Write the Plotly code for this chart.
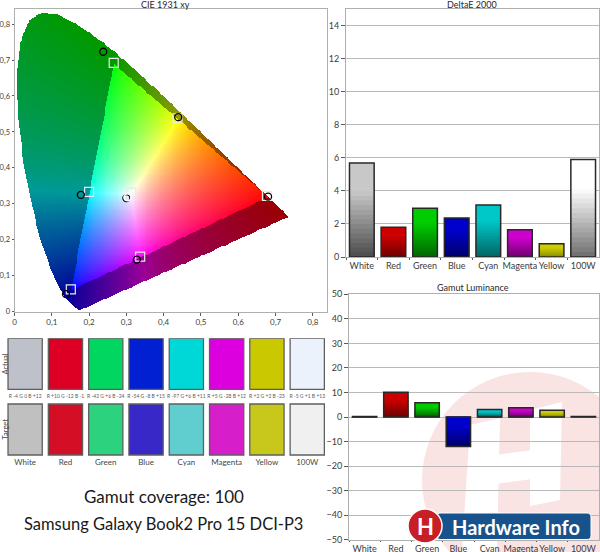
import numpy as np
import plotly.graph_objects as go

# ---------------- data ----------------
categories = ["White", "Red", "Green", "Blue", "Cyan", "Magenta", "Yellow", "100W"]
delta_e = [5.69, 1.80, 2.95, 2.36, 3.15, 1.65, 0.80, 5.91]
luminance = [0.2, 10.1, 5.8, -12.0, 3.1, 3.8, 2.7, 0.2]

target_x = [0.313, 0.677, 0.266, 0.151, 0.200, 0.337, 0.437, 0.313]
target_y = [0.331, 0.322, 0.692, 0.062, 0.333, 0.153, 0.538, 0.331]
actual_x = [0.300, 0.680, 0.238, 0.138, 0.178, 0.328, 0.439, 0.303]
actual_y = [0.316, 0.320, 0.723, 0.049, 0.325, 0.145, 0.541, 0.318]

gamut_x = [0.680, 0.265, 0.150]
gamut_y = [0.320, 0.690, 0.060]
white_x, white_y = 0.3127, 0.3290

# CIE 1931 2-degree spectral locus (380..700 nm)
locus_x = [0.1741, 0.1740, 0.1738, 0.1736, 0.1733, 0.1730, 0.1726, 0.1721, 0.1714, 0.1703,
           0.1689, 0.1669, 0.1644, 0.1611, 0.1566, 0.1510, 0.1440, 0.1355, 0.1241, 0.1096,
           0.0913, 0.0687, 0.0454, 0.0235, 0.0082, 0.0039, 0.0139, 0.0389, 0.0743, 0.1142,
           0.1547, 0.1929, 0.2296, 0.2658, 0.3016, 0.3373, 0.3731, 0.4087, 0.4441, 0.4788,
           0.5125, 0.5448, 0.5752, 0.6029, 0.6270, 0.6482, 0.6658, 0.6801, 0.6915, 0.7006,
           0.7079, 0.7140, 0.7190, 0.7230, 0.7260, 0.7283, 0.7300, 0.7311, 0.7320, 0.7334, 0.7347]
locus_y = [0.0050, 0.0050, 0.0049, 0.0049, 0.0048, 0.0048, 0.0048, 0.0048, 0.0051, 0.0058,
           0.0069, 0.0086, 0.0109, 0.0138, 0.0177, 0.0227, 0.0297, 0.0399, 0.0578, 0.0868,
           0.1327, 0.2007, 0.2950, 0.4127, 0.5384, 0.6548, 0.7502, 0.8120, 0.8338, 0.8262,
           0.8059, 0.7816, 0.7543, 0.7243, 0.6923, 0.6589, 0.6245, 0.5896, 0.5547, 0.5202,
           0.4866, 0.4544, 0.4242, 0.3965, 0.3725, 0.3514, 0.3340, 0.3197, 0.3083, 0.2993,
           0.2920, 0.2859, 0.2809, 0.2770, 0.2740, 0.2717, 0.2700, 0.2689, 0.2680, 0.2666, 0.2653]

swatch_actual = ["rgb(190,192,202)", "rgb(222,0,36)", "rgb(0,214,96)", "rgb(0,32,210)",
                 "rgb(0,216,216)", "rgb(220,0,222)", "rgb(202,200,0)", "rgb(236,242,252)"]
swatch_target = ["rgb(192,192,192)", "rgb(212,14,36)", "rgb(44,210,126)", "rgb(56,40,200)",
                 "rgb(96,206,206)", "rgb(214,30,202)", "rgb(200,200,28)", "rgb(240,240,240)"]
swatch_diff = ["R -4 G 0 B +12", "R +10 G -12 B -1", "R -42 G +6 B -24", "R -54 G -8 B +15",
               "R -97 G +6 B +11", "R +5 G -28 B +12", "R +2 G +2 B -23", "R -5 G +1 B +13"]

bar_top = [(200, 200, 200), (205, 0, 0), (0, 205, 0), (0, 0, 205),
           (0, 200, 200), (205, 0, 205), (205, 205, 0), (255, 255, 255)]
bar_bottom = [(75, 75, 75), (110, 0, 0), (0, 100, 0), (0, 0, 105),
              (0, 100, 100), (110, 0, 110), (140, 140, 0), (110, 110, 110)]

W, H = 600, 552
def px(x):
    return x / W
def py(y):
    return 1 - y / H

FONT = "Lato, 'Open Sans', sans-serif"
fig = go.Figure()

# ---------------- CIE diagram background (computed colours) ----------------
def inside_poly(qx, qy, vx, vy):
    res = np.zeros(qx.shape, bool)
    n = len(vx)
    j = n - 1
    for i in range(n):
        xi, yi, xj, yj = vx[i], vy[i], vx[j], vy[j]
        if yi != yj:
            c = ((yi > qy) != (yj > qy)) & (qx < (xj - xi) * (qy - yi) / (yj - yi) + xi)
            res ^= c
        j = i
    return res

step = 0.0025
gx = np.arange(0, 0.745, step) + step / 2
gy = np.arange(0, 0.84, step) + step / 2
XX, YY = np.meshgrid(gx, gy)
mask = inside_poly(XX, YY, locus_x, locus_y)

P = np.array([[x / y for x, y in zip(gamut_x, gamut_y)],
              [1.0, 1.0, 1.0],
              [(1 - x - y) / y for x, y in zip(gamut_x, gamut_y)]])
Wxyz = np.array([white_x / white_y, 1.0, (1 - white_x - white_y) / white_y])
S = np.linalg.solve(P, Wxyz)
M = P * S
Minv = np.linalg.inv(M)
Ys = np.maximum(YY, 1e-4)
XYZ = np.stack([XX / Ys, np.ones_like(XX), (1 - XX - YY) / Ys], axis=-1)
rgb = XYZ @ Minv.T
in_tri = np.all(rgb >= 0, axis=-1)
rgb = np.clip(rgb, 0, None)
rgb = rgb / np.maximum(rgb.max(axis=-1, keepdims=True), 1e-9)
rgb = rgb ** (1 / 1.35)
rgb[~in_tri] *= 0.6
img = np.full(XX.shape + (3,), 255, dtype=np.uint8)
img[mask] = (rgb[mask] * 255).round().astype(np.uint8)

fig.add_trace(go.Image(z=img, x0=gx[0], dx=step, y0=gy[0], dy=step,
                       xaxis="x", yaxis="y", hoverinfo="skip"))
fig.add_trace(go.Scatter(x=target_x, y=target_y, mode="markers", xaxis="x", yaxis="y",
                         marker=dict(symbol="square-open", size=9, color="rgb(235,235,235)",
                                     line=dict(width=1.2)),
                         hoverinfo="skip", showlegend=False))
fig.add_trace(go.Scatter(x=actual_x[:7], y=actual_y[:7], mode="markers", xaxis="x", yaxis="y",
                         marker=dict(symbol="circle-open", size=7, color="black",
                                     line=dict(width=1.3)),
                         hoverinfo="skip", showlegend=False))
fig.add_trace(go.Scatter(x=actual_x[7:], y=actual_y[7:], mode="markers", xaxis="x", yaxis="y",
                         marker=dict(symbol="circle-open", size=7, color="white",
                                     line=dict(width=1.5)),
                         hoverinfo="skip", showlegend=False))

# ---------------- gradient bars ----------------
N = 20
def grad_color(i, t):
    f = min(1.0, max(0.0, t / 0.7))
    c = [bar_bottom[i][j] + (bar_top[i][j] - bar_bottom[i][j]) * f for j in range(3)]
    return "rgb(%d,%d,%d)" % tuple(int(round(v)) for v in c)

def add_bars(values, xa, ya):
    for k in range(N):
        s = (N - k - 0.5) / N
        heights = [v * (N - k) / N for v in values]
        cols = [grad_color(i, s if v >= 0 else 1 - s) for i, v in enumerate(values)]
        fig.add_trace(go.Bar(x=categories, y=heights, xaxis=xa, yaxis=ya, width=0.78,
                             marker=dict(color=cols, line=dict(width=0)),
                             hoverinfo="skip", showlegend=False))
    fig.add_trace(go.Bar(x=categories, y=values, xaxis=xa, yaxis=ya, width=0.78,
                         marker=dict(color="rgba(0,0,0,0)",
                                     line=dict(color="rgb(40,40,40)", width=1.5)),
                         hoverinfo="skip", showlegend=False))

add_bars(delta_e, "x2", "y2")
add_bars(luminance, "x3", "y3")

# ---------------- swatches ----------------
SW_H = 51
SW_GAP = 14.7
SW_LAB = 15
fig.add_trace(go.Bar(x=categories, y=[SW_H] * 8, base=[SW_H + SW_GAP] * 8, xaxis="x4", yaxis="y4",
                     width=0.85, marker=dict(color=swatch_actual,
                                             line=dict(color="rgb(95,95,95)", width=1.3)),
                     hoverinfo="skip", showlegend=False))
fig.add_trace(go.Bar(x=categories, y=[SW_H] * 8, base=[0] * 8, xaxis="x4", yaxis="y4",
                     width=0.85, marker=dict(color=swatch_target,
                                             line=dict(color="rgb(95,95,95)", width=1.3)),
                     hoverinfo="skip", showlegend=False))
fig.add_trace(go.Scatter(x=categories, y=[SW_H + SW_GAP - 7.4] * 8, mode="text", text=swatch_diff,
                         xaxis="x4", yaxis="y4", cliponaxis=False,
                         textfont=dict(size=5, color="rgb(90,90,90)", family=FONT),
                         hoverinfo="skip", showlegend=False))
fig.add_trace(go.Scatter(x=categories, y=[-7.7] * 8, mode="text", text=categories,
                         xaxis="x4", yaxis="y4", cliponaxis=False,
                         textfont=dict(size=8, color="rgb(70,70,70)", family=FONT),
                         hoverinfo="skip", showlegend=False))

# ---------------- axes ----------------
frame = dict(showline=True, mirror=True, linecolor="rgb(175,175,175)", linewidth=1,
             automargin=False)
tickf = dict(size=9, color="rgb(60,60,60)", family=FONT)
tickc = dict(size=8, color="rgb(60,60,60)", family=FONT)
tickcy = dict(size=7.5, color="rgb(60,60,60)", family=FONT)

fig.update_layout(
    template="none",
    width=W, height=H, margin=dict(l=0, r=0, t=0, b=0, autoexpand=False),
    paper_bgcolor="white", plot_bgcolor="rgba(0,0,0,0)",
    separators=", ", barmode="overlay", showlegend=False,
    font=dict(family=FONT, color="rgb(40,40,40)"),
    xaxis=dict(domain=[px(14.5), px(327)], range=[0, 0.838], autorange=False, dtick=0.1, tick0=0,
               ticks="outside", ticklen=3, tickcolor="rgb(90,90,90)", showgrid=False,
               zeroline=False, tickfont=tickc, anchor="y", constrain="range", tickangle=0,
               **frame),
    yaxis=dict(domain=[py(311.7), py(9.3)], range=[0, 0.841], autorange=False, dtick=0.1, tick0=0,
               ticks="outside", ticklen=2, tickcolor="rgb(90,90,90)", showgrid=False,
               zeroline=False, tickfont=tickcy, anchor="x", scaleanchor=False, constrain="range",
               **frame),
    xaxis2=dict(domain=[px(346), px(599)], type="category", categoryorder="array",
                categoryarray=categories, range=[-0.5, 7.5], tickson="boundaries",
                ticks="outside", ticklen=2, tickcolor="rgb(90,90,90)", showgrid=False,
                tickfont=tickf, anchor="y2", tickangle=0, **frame),
    yaxis2=dict(domain=[py(257), py(9.3)], range=[0, 15], dtick=2, tick0=0, ticks="outside",
                ticklen=4, tickcolor="rgb(90,90,90)", showgrid=True, gridcolor="rgb(185,185,185)",
                gridwidth=1, zeroline=False, tickfont=tickf, anchor="x2", **frame),
    xaxis3=dict(domain=[px(349), px(599)], type="category", categoryorder="array",
                categoryarray=categories, range=[-0.5, 7.5], tickson="boundaries",
                ticks="outside", ticklen=1, tickcolor="rgb(90,90,90)", showgrid=False,
                tickfont=tickf, anchor="y3", tickangle=0, **frame),
    yaxis3=dict(domain=[py(539.7), py(294.3)], range=[-50, 50], dtick=10, tick0=0,
                ticks="outside", ticklen=4, tickcolor="rgb(90,90,90)", showgrid=True,
                gridcolor="rgb(185,185,185)", gridwidth=1, zeroline=False, tickfont=tickf,
                anchor="x3", **frame),
    xaxis4=dict(domain=[px(5), px(327.4)], type="category", categoryorder="array",
                categoryarray=categories, range=[-0.5, 7.5], visible=False, anchor="y4",
                automargin=False),
    yaxis4=dict(domain=[py(455 + SW_LAB), py(338.3)], range=[-SW_LAB, 2 * SW_H + SW_GAP],
                visible=False, anchor="x4", automargin=False),
)

# ---------------- watermark & logo shapes ----------------
def rect_path(pts):
    return "M " + " L ".join("%f,%f" % (px(x), py(y)) for x, y in pts) + " Z"

shapes = [
    dict(type="circle", xref="paper", yref="paper", x0=px(422), x1=px(638), y0=py(588), y1=py(372),
         fillcolor="rgb(250,227,227)", line=dict(width=0), layer="below"),
    dict(type="path", xref="paper", yref="paper", layer="below", line=dict(width=0),
         fillcolor="white", path=rect_path([(470, 425), (500, 418), (497, 552), (462, 552)])),
    dict(type="path", xref="paper", yref="paper", layer="below", line=dict(width=0),
         fillcolor="white", path=rect_path([(496, 455), (540, 449), (540, 478), (496, 484)])),
    dict(type="path", xref="paper", yref="paper", layer="below", line=dict(width=0),
         fillcolor="white", path=rect_path([(530, 410), (562, 402), (560, 500), (530, 506)])),
]
x0, x1, y0, y1, r = 436, 591, 513, 539.5, 4
rr = ("M %f,%f L %f,%f Q %f,%f %f,%f L %f,%f Q %f,%f %f,%f L %f,%f Q %f,%f %f,%f L %f,%f Q %f,%f %f,%f Z"
      % (px(x0 + r), py(y0), px(x1 - r), py(y0), px(x1), py(y0), px(x1), py(y0 + r),
         px(x1), py(y1 - r), px(x1), py(y1), px(x1 - r), py(y1),
         px(x0 + r), py(y1), px(x0), py(y1), px(x0), py(y1 - r),
         px(x0), py(y0 + r), px(x0), py(y0), px(x0 + r), py(y0)))
shapes.append(dict(type="path", xref="paper", yref="paper", layer="above", path=rr,
                   fillcolor="rgb(24,82,140)", line=dict(color="white", width=1)))
shapes.append(dict(type="circle", xref="paper", yref="paper", layer="above",
                   x0=px(408), x1=px(442), y0=py(543), y1=py(509),
                   fillcolor="rgb(200,30,38)", line=dict(color="white", width=1.5)))
fig.update_layout(shapes=shapes)

# ---------------- annotations ----------------
ann = []
def text(x, y, s, size, color="rgb(40,40,40)", angle=0, bold=False):
    ann.append(dict(x=px(x), y=py(y), xref="paper", yref="paper", text=("<b>%s</b>" % s) if bold else s,
                    showarrow=False, xanchor="center", yanchor="middle", textangle=angle,
                    font=dict(size=size, color=color, family=FONT)))

text(165, 4.5, "CIE 1931 xy", 9)
text(472, 4.5, "DeltaE 2000", 9)
text(473, 287.5, "Gamut Luminance", 9)
text(4.5, 364, "Actual", 7.5, color="rgb(70,70,70)", angle=-90)
text(4.5, 429, "Target", 7.5, color="rgb(70,70,70)", angle=-90)
text(163.5, 496.5, "Gamut coverage: 100", 17, color="rgb(25,25,25)")
text(163.5, 523.5, "Samsung Galaxy Book2 Pro 15 DCI-P3", 16.5, color="rgb(25,25,25)")
text(425, 526, "H", 22, color="white", bold=True)
text(516, 526.5, "Hardware Info", 20, color="white", bold=True)
fig.update_layout(annotations=ann)

fig.write_html("out.html", config={"displayModeBar": False},
               post_script="document.body.style.margin='0px';document.body.style.overflow='hidden';")
